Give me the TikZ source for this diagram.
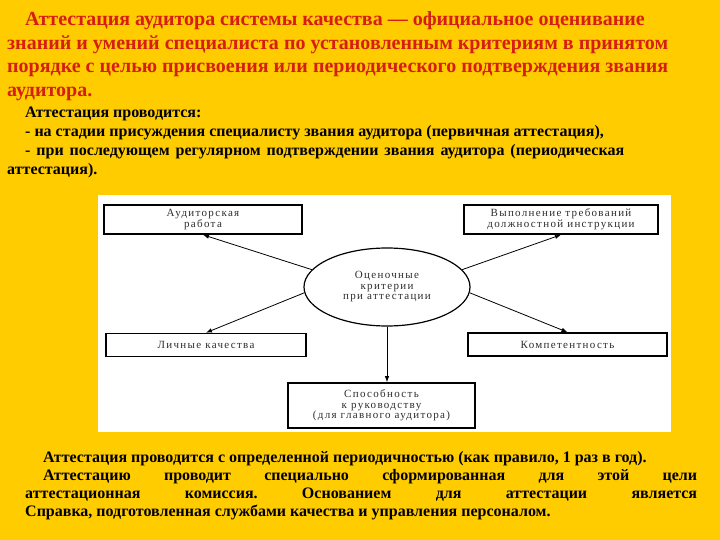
\documentclass[tikz,border=0pt]{standalone}
\usepackage{fontspec}
\setmainfont{Liberation Serif}
\usetikzlibrary{arrows.meta,positioning,shapes.geometric}
\definecolor{slide}{RGB}{255,204,0}
\definecolor{titlered}{RGB}{214,30,20}
\definecolor{ink}{RGB}{45,45,45}
\frenchspacing

\begin{document}
\begin{tikzpicture}[x=1pt,y=-1pt,>={Latex[length=6pt,width=4.5pt]},
    titleline/.style={anchor=base west,inner sep=0,text=titlered,font=\fontsize{20}{23}\selectfont\bfseries},
    bodyline/.style={anchor=base west,inner sep=0,text=black,font=\fontsize{16}{18}\selectfont\bfseries},
    block/.style={draw,line width=1.6pt,inner sep=0,align=center,text=ink,
        font=\fontsize{11}{10.5}\selectfont\addfontfeatures{LetterSpace=12}},
    crit/.style={ellipse,draw,line width=1.2pt,inner sep=0,align=center,text=ink,
        minimum width=166pt,minimum height=78pt,
        font=\fontsize{11}{10.5}\selectfont\addfontfeatures{LetterSpace=12}},
    node distance=2cm,on grid]
  % slide and white scan
  \fill[slide] (0,0) rectangle (720,540);
  \fill[white] (98,195) rectangle (671,432);

  % definition
  \node[titleline] (t1) at (25,26) {Аттестация аудитора системы качества — официальное оценивание};
  \node[titleline] (t2) at (7,50) {\makebox[661pt][s]{знаний и умений специалиста по установленным критериям в принятом}};
  \node[titleline] (t3) at (7,73) {\makebox[661pt][s]{порядке с целью присвоения или периодического подтверждения звания}};
  \node[titleline] (t4) at (7,97) {аудитора.};

  \node[bodyline] (m1) at (25,118) {Аттестация проводится:};
  \node[bodyline] (m2) at (25,137) {- на стадии присуждения специалисту звания аудитора (первичная аттестация),};
  \node[bodyline] (m3) at (25,156) {\makebox[599pt][s]{- при последующем регулярном подтверждении звания аудитора (периодическая}};
  \node[bodyline] (m4) at (7,175) {аттестация).};

  % diagram
  \node[crit] (crit) at (387,287) {Оценочные\\критерии\\при аттестации};
  \node[block,minimum width=198pt,minimum height=29pt] (work) [above left=67.5pt and 184pt of crit] {Аудиторская\\работа};
  \node[block,minimum width=194pt,minimum height=29pt] (duty) [above right=67.5pt and 174pt of crit] {Выполнение требований\\должностной инструкции};
  \node[block,minimum width=200pt,minimum height=23pt] (pers) [below left=58pt and 181pt of crit] {Личные качества};
  \node[block,minimum width=199pt,minimum height=23pt] (comp) [below right=57.5pt and 180.5pt of crit] {Компетентность};
  \node[block,minimum width=187pt,minimum height=45pt] (lead) [below left=118.5pt and 5.5pt of crit] {Способность\\к руководству\\(для главного аудитора)};
  \path[->,line width=0.8pt]
    (crit.167) edge (work.south)
    (crit.13)  edge (duty.south)
    (crit.184) edge (pers.north)
    (crit.-4)  edge (comp.north)
    (crit.south) edge (crit.south |- lead.north);

  % periodicity
  \node[bodyline] (b1) at (43,462) {Аттестация проводится с определенной периодичностью (как правило, 1 раз в год).};
  \node[bodyline] (b2) at (43,480) {\makebox[654pt][s]{Аттестацию проводит специально сформированная для этой цели}};
  \node[bodyline] (b3) at (25,498) {\makebox[672pt][s]{аттестационная комиссия. Основанием для аттестации является}};
  \node[bodyline] (b4) at (25,516) {Справка, подготовленная службами качества и управления персоналом.};
\end{tikzpicture}
\end{document}
